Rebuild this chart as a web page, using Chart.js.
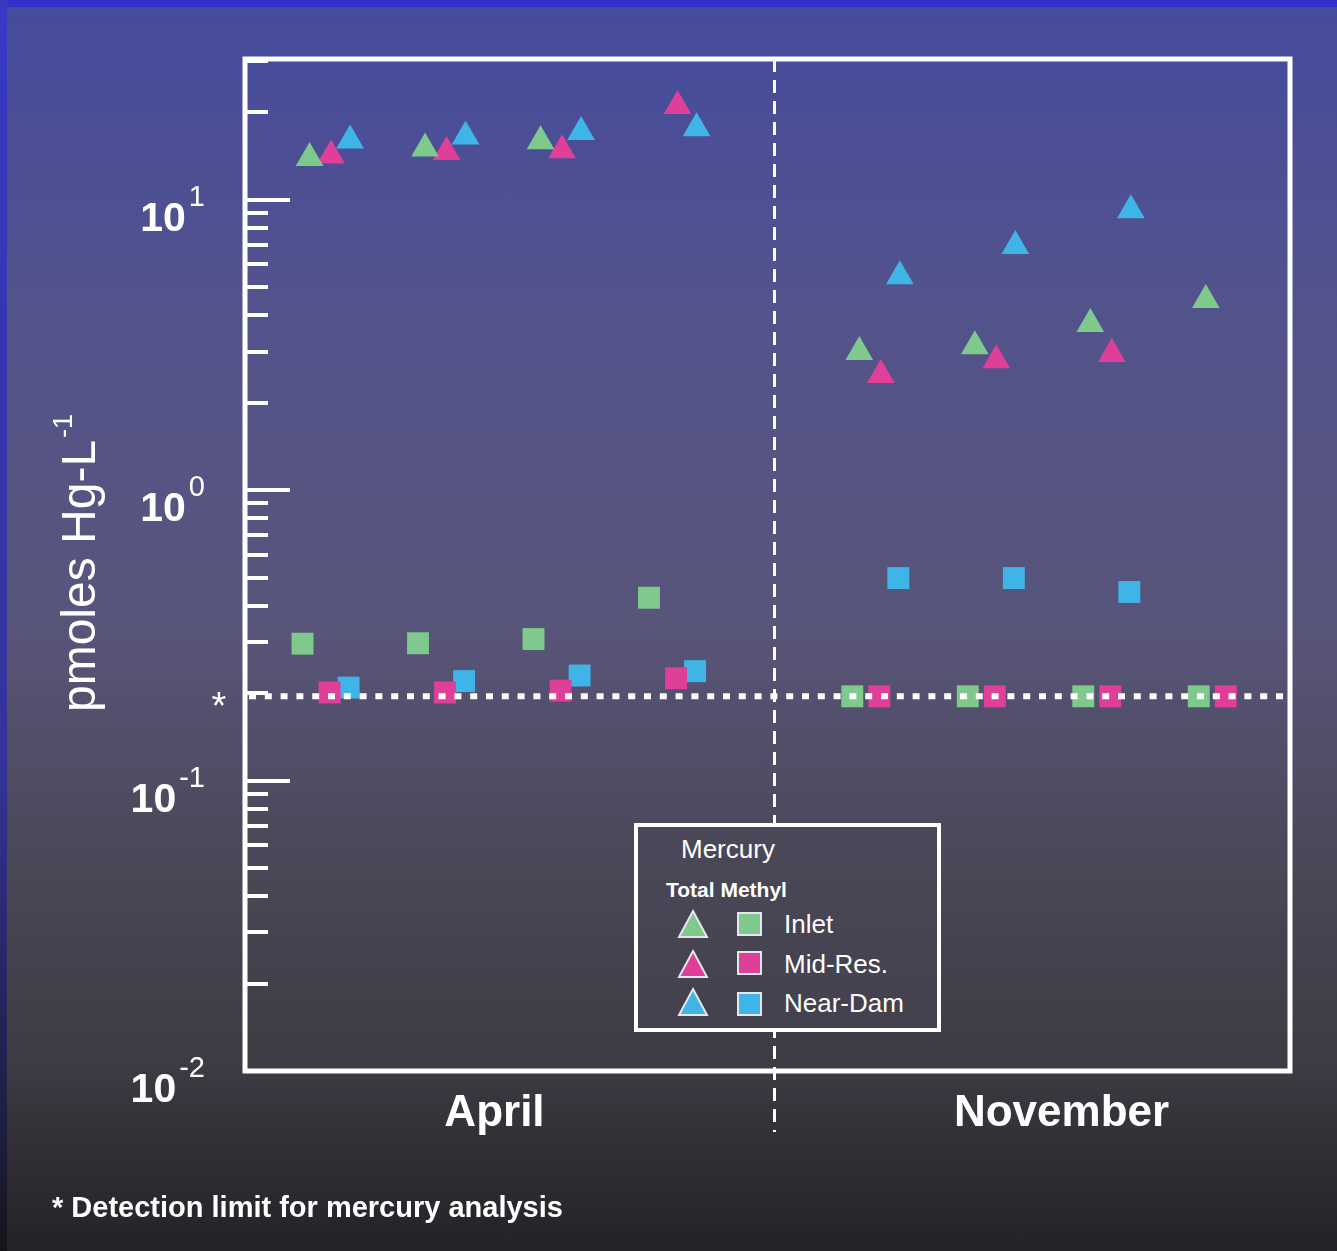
<!DOCTYPE html>
<html><head><meta charset="utf-8">
<script src="https://cdn.jsdelivr.net/npm/chart.js@4.4.1/dist/chart.umd.min.js"></script>
<style>
html,body{margin:0;padding:0;width:1337px;height:1251px;overflow:hidden;}
body{position:relative;font-family:"Liberation Sans",Arial,sans-serif;
 background:linear-gradient(to bottom,#454b9e 0%,#53538c 25%,#58557a 50%,#4b4859 68%,#3d3b43 85%,#242226 100%);}
#topbar{position:absolute;left:0;top:0;width:1337px;height:7px;background:#3232c8;}
#leftbar{position:absolute;left:0;top:0;width:7px;height:1251px;background:linear-gradient(#3838c4,#34349a 60%,#1e1e40 90%,#141418);}
#c{position:absolute;left:0;top:0;}
#legend{position:absolute;left:634px;top:823px;width:307px;height:209px;box-sizing:border-box;border:4px solid #fff;
 background:linear-gradient(#4b4959,#43414d);color:#fff;}
#legend .t{position:absolute;white-space:nowrap;line-height:1;}
#legend svg{position:absolute;left:-4px;top:-4px;}
</style>
</head><body>
<div id="topbar"></div><div id="leftbar"></div>
<canvas id="c" width="1337" height="1251"></canvas>
<div id="legend">
 <svg id="lsvg" width="307" height="209"></svg>
 <div class="t" id="lgTitle" style="left:43px;top:9px;font-size:26px;"></div>
 <div class="t" id="lgSub" style="left:28px;top:52px;font-size:21px;font-weight:bold;"></div>
 <div class="t" id="lg0" style="left:146px;top:84px;font-size:26px;"></div>
 <div class="t" id="lg1" style="left:146px;top:124px;font-size:26px;"></div>
 <div class="t" id="lg2" style="left:146px;top:163px;font-size:26px;"></div>
</div>
<script>
// ---------- data ----------
const groupX = [0.745, 1.745, 2.745, 3.745, 5.505, 6.505, 7.505, 8.505];
const months = ['April', 'November'];
const monthLabelX = [2.16, 7.07];
const dividerX = 4.58;
const detectionLimit = 0.195;
const sites = ['Inlet', 'Mid-Res.', 'Near-Dam'];
const totalInlet   = [13.9, 15.0, 15.9, null, 2.99, 3.13, 3.73, 4.51];
const totalMidRes  = [14.2, 14.6, 14.8, 21.0, 2.49, 2.80, 2.94, null];
const totalNearDam = [16.0, 16.5, 17.1, 17.6, 5.45, 6.92, 9.20, null];
const methylInlet   = [0.296, 0.297, 0.307, 0.426, 0.195, 0.195, 0.195, 0.195];
const methylMidRes  = [0.201, 0.201, 0.204, 0.225, 0.195, 0.195, 0.195, 0.195];
const methylNearDam = [0.209, 0.220, 0.230, 0.238, 0.498, 0.498, 0.446, null];
const yMajorTicks = [0.01, 0.1, 1, 10];
const yTickBase = '10';
const yTickExponents = ['-2', '-1', '0', '1'];
const yTitle = 'pmoles Hg-L';
const yTitleSup = '-1';
const legendTitle = 'Mercury';
const legendSub = 'Total Methyl';
const footnote = '* Detection limit for mercury analysis';

// ---------- styling ----------
const colors = ['#7ec98b', '#df3f98', '#3fb5e7'];
const totalOffset = [-0.186, 0, 0.165];
const methylOffset = [-0.247, -0.013, 0.152];
const FONT = '"Liberation Sans", Arial, sans-serif';

function pts(vals, off) {
  const out = [];
  vals.forEach((v, i) => { if (v !== null) out.push({x: groupX[i] + off, y: v}); });
  return out;
}
const totals = [totalInlet, totalMidRes, totalNearDam];
const methyls = [methylInlet, methylMidRes, methylNearDam];
const datasets = [];
totals.forEach((arr, i) => datasets.push({
  label: 'Total ' + sites[i], data: pts(arr, totalOffset[i]), pointStyle: 'triangle',
  pointRadius: 16, backgroundColor: colors[i], borderWidth: 0, showLine: false
}));
methyls.forEach((arr, i) => datasets.push({
  label: 'Methyl ' + sites[i], data: pts(arr, methylOffset[i]), pointStyle: 'rect',
  pointRadius: 15.5, backgroundColor: colors[i], borderWidth: 0, showLine: false
}));

const deco = {
  id: 'deco',
  beforeDatasetsDraw(chart) {
    const {ctx, chartArea: a, scales: {x}} = chart;
    ctx.save();
    ctx.strokeStyle = '#fff'; ctx.lineWidth = 3; ctx.setLineDash([13, 8]);
    const xd = Math.round(x.getPixelForValue(dividerX)) + 0.5;
    ctx.beginPath(); ctx.moveTo(xd, a.top); ctx.lineTo(xd, a.bottom + 61); ctx.stroke();
    ctx.restore();
  },
  afterDatasetsDraw(chart) {
    const {ctx, chartArea: a, scales: {x, y}} = chart;
    ctx.save();
    // detection limit dotted line
    ctx.strokeStyle = '#fff'; ctx.lineWidth = 6; ctx.setLineDash([7, 8.8]);
    const yd = y.getPixelForValue(detectionLimit);
    ctx.beginPath(); ctx.moveTo(a.left + 4, yd); ctx.lineTo(a.right - 4, yd); ctx.stroke();
    ctx.setLineDash([]);
    // frame
    ctx.lineWidth = 5;
    ctx.strokeRect(a.left, a.top, a.right - a.left, a.bottom - a.top);
    // y ticks
    ctx.lineWidth = 4;
    yMajorTicks.forEach(d => {
      for (let k = 1; k <= 9; k++) {
        const v = d * k;
        if (v > y.max + 1e-9) break;
        const py = Math.round(y.getPixelForValue(v));
        const len = k === 1 ? 45 : 23;
        ctx.beginPath(); ctx.moveTo(a.left, py); ctx.lineTo(a.left + len, py); ctx.stroke();
      }
    });
    // y tick labels
    ctx.fillStyle = '#fff'; ctx.textBaseline = 'alphabetic';
    yMajorTicks.forEach((d, i) => {
      const py = y.getPixelForValue(d);
      ctx.font = '29px ' + FONT; ctx.textAlign = 'right';
      const ew = ctx.measureText(yTickExponents[i]).width;
      ctx.fillText(yTickExponents[i], 205, py + 6);
      ctx.font = 'bold 41px ' + FONT;
      ctx.fillText(yTickBase, 205 - ew - 3, py + 31);
    });
    // detection asterisk
    ctx.font = '38px ' + FONT; ctx.textAlign = 'center';
    ctx.fillText('*', 219, yd + 23);
    // month labels
    ctx.font = 'bold 44px ' + FONT; ctx.textAlign = 'center';
    months.forEach((m, i) => ctx.fillText(m, x.getPixelForValue(monthLabelX[i]), 1126));
    // footnote
    ctx.font = 'bold 29px ' + FONT; ctx.textAlign = 'left';
    ctx.fillText(footnote, 52, 1217);
    // y title
    ctx.save();
    ctx.translate(95, 712); ctx.rotate(-Math.PI / 2);
    ctx.font = '48px ' + FONT; ctx.textAlign = 'left';
    ctx.fillText(yTitle, 0, 0);
    const tw = ctx.measureText(yTitle).width;
    ctx.font = '27px ' + FONT;
    ctx.fillText(yTitleSup, tw + 2, -23);
    ctx.restore();
    ctx.restore();
  }
};

new Chart(document.getElementById('c'), {
  type: 'scatter',
  data: {datasets},
  options: {
    responsive: false, animation: false, devicePixelRatio: 1,
    layout: {padding: {left: 245, right: 47, top: 59, bottom: 180}},
    plugins: {legend: {display: false}, tooltip: {enabled: false}},
    scales: {
      x: {type: 'linear', min: 0, max: 9.048, display: false},
      y: {type: 'logarithmic', min: 0.01, max: 30.5, display: false}
    }
  },
  plugins: [deco]
});

// legend (HTML)
document.getElementById('lgTitle').textContent = legendTitle;
document.getElementById('lgSub').textContent = legendSub;
sites.forEach((s, i) => document.getElementById('lg' + i).textContent = s);
const svg = document.getElementById('lsvg');
const NS = 'http://www.w3.org/2000/svg';
const triY = [87, 127, 165], sqY = [89, 128, 169];
sites.forEach((s, i) => {
  const p = document.createElementNS(NS, 'polygon');
  const t = triY[i];
  p.setAttribute('points', `59,${t + 1} 73,${t + 27} 45,${t + 27}`);
  p.setAttribute('fill', colors[i]); p.setAttribute('stroke', '#e6e6ee'); p.setAttribute('stroke-width', '2');
  svg.appendChild(p);
  const r = document.createElementNS(NS, 'rect');
  r.setAttribute('x', 104); r.setAttribute('y', sqY[i] + 1); r.setAttribute('width', 23); r.setAttribute('height', 22);
  r.setAttribute('fill', colors[i]); r.setAttribute('stroke', '#e6e6ee'); r.setAttribute('stroke-width', '2');
  svg.appendChild(r);
});
</script>
</body></html>
